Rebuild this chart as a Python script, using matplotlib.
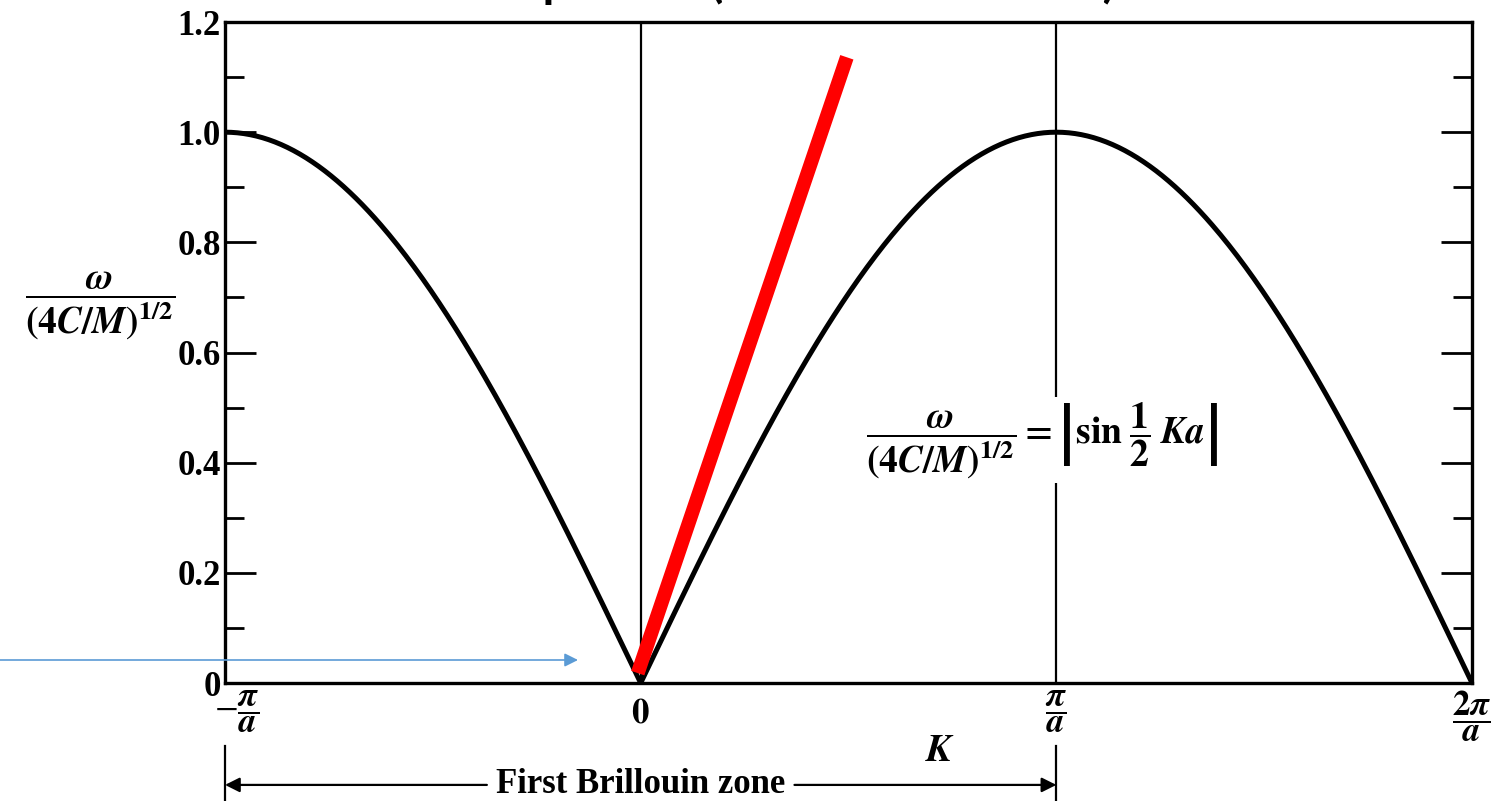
"""Dispersion curve of a monatomic linear lattice."""

import matplotlib
matplotlib.use("Agg")
import matplotlib.pyplot as plt
import matplotlib.transforms as mtransforms
import numpy as np

plt.rcParams["font.family"] = ["Liberation Serif"]
plt.rcParams["mathtext.fontset"] = "stix"

# wavevector in units of pi/a
k_min, k_max = -1.0, 2.0
k = np.linspace(k_min, k_max, 601)
# omega / (4C/M)^(1/2) = |sin(Ka/2)|, as stated on the plot
omega = np.abs(np.sin(k * np.pi / 2))

# long-wavelength (sound) line, endpoints (K, omega)
sound_k = [-0.007, 0.496]
sound_w = [0.018, 1.136]

zone_lines = [0.0, 1.0]
xtick_pos = [-1, 0, 1, 2]
xtick_lab = [r"$-\dfrac{\boldsymbol{\pi}}{\boldsymbol{a}}$", r"$\mathbf{0}$",
             r"$\dfrac{\boldsymbol{\pi}}{\boldsymbol{a}}$",
             r"$\dfrac{\mathbf{2}\boldsymbol{\pi}}{\boldsymbol{a}}$"]
ytick_major = [0, 0.2, 0.4, 0.6, 0.8, 1.0, 1.2]
ytick_lab = ["0", "0.2", "0.4", "0.6", "0.8", "1.0", "1.2"]
ytick_minor = [0.1, 0.3, 0.5, 0.7, 0.9, 1.1]

ratio = r"\dfrac{\boldsymbol{\omega}}{\mathbf{(4}\boldsymbol{C}\mathbf{/}\boldsymbol{M}\mathbf{)}^{\mathbf{1/2}}}"

fig = plt.figure(figsize=(14.99, 8.01), dpi=100)
ax = fig.add_axes([0.1501, 0.1473, 0.8319, 0.8252])

ax.plot(k, omega, color="black", lw=3.6, solid_capstyle="butt", zorder=3)
for x0 in zone_lines:
    ax.axvline(x0, color="black", lw=1.6, zorder=2)
ax.plot(sound_k, sound_w, color="#ff0000", lw=10, solid_capstyle="butt", zorder=4)

ax.set_xlim(k_min, k_max)
ax.set_ylim(0, 1.2)
for s in ax.spines.values():
    s.set_linewidth(2.4)

ax.set_xticks(xtick_pos)
ax.set_xticklabels(xtick_lab, fontsize=25)
ax.tick_params(axis="x", length=0, pad=4)
# nudge the -pi/a label right so it clears the "0" on the y axis,
# and drop the plain "0" to the height of the fraction bars
labels = ax.get_xticklabels()
labels[0].set_transform(labels[0].get_transform()
                        + mtransforms.ScaledTranslation(12 / 100, 0, fig.dpi_scale_trans))
labels[1].set_transform(labels[1].get_transform()
                        + mtransforms.ScaledTranslation(0, -9 / 100, fig.dpi_scale_trans))
ax.set_yticks(ytick_major)
ax.set_yticklabels(ytick_lab, fontsize=25, fontweight="bold")
ax.set_yticks(ytick_minor, minor=True)
ax.tick_params(axis="y", which="major", direction="in", length=22, width=2,
               right=True, pad=3)
ax.tick_params(axis="y", which="minor", direction="in", length=14, width=2,
               right=True)

fig.text(100 / 1499, 1 - 305 / 801, "$" + ratio + "$",
         fontsize=27, ha="center", va="center")

ax.text(0.965, 0.441,
        "$" + ratio + r" \mathbf{=} \left|\mathbf{sin}\;\dfrac{\mathbf{1}}{\mathbf{2}}\;\boldsymbol{Ka}\right|$",
        fontsize=27, ha="center", va="center", zorder=5,
        bbox=dict(facecolor="white", edgecolor="none", pad=2))

ax.text(0.72, -0.125, r"$\boldsymbol{K}$", fontsize=28, ha="center", va="center")

# first Brillouin zone marker below the axis
yb = -0.185
ax.text(0.0, yb, "First Brillouin zone", fontsize=25, fontweight="bold",
        ha="center", va="center")
arrow = dict(arrowstyle="-|>", color="black", lw=1.6, mutation_scale=22,
             shrinkA=0, shrinkB=0)
ax.annotate("", xy=(-1, yb), xytext=(-0.37, yb), arrowprops=arrow,
            annotation_clip=False)
ax.annotate("", xy=(1, yb), xytext=(0.37, yb), arrowprops=arrow,
            annotation_clip=False)
for x0 in [-1, 1]:
    ax.plot([x0, x0], [-0.115, -0.215], color="black", lw=1.6, clip_on=False)

# pointer to the origin
fig.patches.append(matplotlib.patches.FancyArrowPatch(
    (0.0, 1 - 660 / 801), (578 / 1499, 1 - 660 / 801),
    transform=fig.transFigure, arrowstyle="-|>", mutation_scale=20,
    color="#5b9bd5", lw=1.2, shrinkA=0, shrinkB=0))

fig.text(474 / 1499, 1.004, "Dispersion (monatomic lattice)", family="Lato",
         fontweight="bold", fontsize=34, ha="left", va="baseline")

fig.savefig("out.png", dpi=100, facecolor="white")
